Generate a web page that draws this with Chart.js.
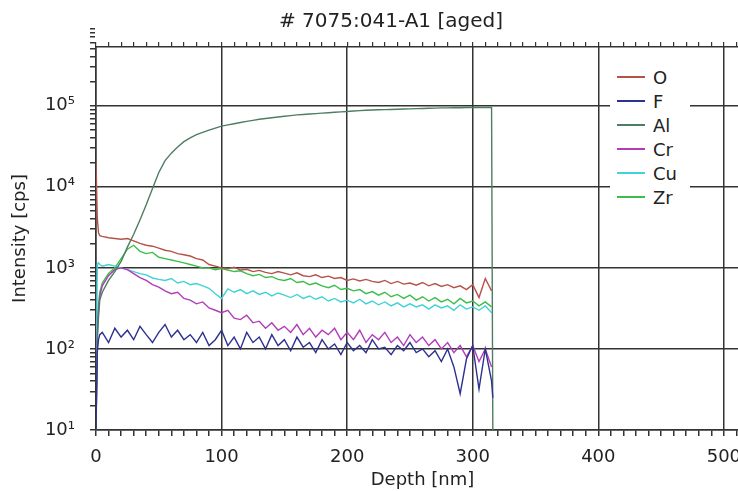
<!DOCTYPE html>
<html>
<head>
<meta charset="utf-8">
<script src="https://cdn.jsdelivr.net/npm/chart.js@4"></script>
<style>
  html, body { margin: 0; padding: 0; background: #fff; overflow: hidden; }
  #wrap { position: relative; width: 774px; height: 491px; }
  #legend { position: absolute; left: 610px; top: 65px; width: 80px; background: #fff;
            font: 18px 'DejaVu Sans', sans-serif; color: #222; }
  .item { height: 24px; display: flex; align-items: center; }
  .swatch { width: 28px; height: 2px; margin: 0 8px 0 7px; }
</style>
</head>
<body>
<div id="wrap">
  <canvas id="chart" width="774" height="491"></canvas>
  <div id="legend"></div>
</div>
<script>
// depth [nm]
const depth = [0, 1, 2, 3, 5, 10, 15, 20, 25, 30, 35, 40, 45, 50, 55, 60, 65, 70, 75, 80, 85, 90, 95, 100,
  105, 110, 115, 120, 125, 130, 135, 140, 145, 150, 155, 160, 165, 170, 175, 180, 185, 190, 195, 200,
  205, 210, 215, 220, 225, 230, 235, 240, 245, 250, 255, 260, 265, 270, 275, 280, 285, 290, 295, 300,
  305, 310, 315, 316];

const oValues = [20000, 4200, 2700, 2500, 2450, 2350, 2300, 2250, 2300, 2150, 2000, 1900, 1850, 1750, 1650, 1600, 1500, 1450, 1400, 1300, 1250, 1100, 1050, 1000,
  980, 1020, 940, 960, 900, 930, 880, 850, 900, 860, 820, 870, 800, 780, 820, 760, 790, 740, 760, 700,
  730, 690, 720, 680, 660, 700, 640, 680, 630, 650, 610, 660, 600, 640, 590, 620, 570, 600, 540, 620,
  430, 740, 520, null];

const fValues = [10, 90, 130, 150, 160, 120, 180, 140, 170, 130, 190, 150, 120, 160, 200, 140, 170, 130, 150, 120, 160, 110, 130, 170,
  110, 140, 100, 160, 120, 140, 100, 150, 110, 130, 95, 140, 105, 120, 90, 130, 100, 115, 85, 120,
  95, 110, 90, 130, 100, 105, 85, 110, 95, 120, 90, 100, 80, 95, 70, 100, 60, 28, 75, 110,
  32, 100, 40, 25];

const alValues = [10, 120, 250, 400, 500, 700, 900, 1200, 1800, 2600, 3900, 6000, 9500, 15000, 21000, 26000, 31000, 36000, 40000, 44000, 47000, 50000, 53000, 56000,
  58000, 60000, 62000, 64000, 66000, 68000, 69500, 71000, 72500, 74000, 75500, 77000, 78000, 79000, 80000, 81000, 82000, 83000, 84000, 85000,
  86000, 87000, 88000, 88500, 89000, 89500, 90000, 90500, 91000, 91500, 92000, 92500, 93000, 93500, 94000, 94000, 94500, 94500, 95000, 95000,
  95000, 95000, 95000, 10];

const crValues = [10, 150, 300, 450, 600, 800, 950, 1000, 950, 850, 760, 700, 620, 580, 520, 480, 500, 420, 400, 360, 380, 320, 300, 280,
  300, 240, 230, 260, 210, 220, 180, 210, 170, 190, 160, 200, 150, 180, 140, 170, 150, 180, 130, 160,
  130, 170, 120, 150, 130, 160, 120, 140, 110, 150, 120, 140, 110, 130, 100, 120, 90, 110, 80, 110,
  70, 100, 60, null];

const cuValues = [10, 1100, 1150, 1100, 1050, 1100, 1050, 1000, 950, 900, 850, 820, 750, 720, 700, 740, 650, 680, 620, 640, 600, 560, 480, 420,
  550, 500, 540, 480, 520, 470, 500, 450, 490, 460, 430, 470, 420, 450, 410, 440, 390, 420, 380, 400,
  370, 410, 360, 390, 350, 380, 340, 370, 330, 360, 330, 350, 310, 350, 320, 340, 300, 350, 310, 330,
  300, 340, 280, null];

const zrValues = [10, 200, 350, 500, 650, 850, 1000, 1300, 1700, 1900, 1600, 1500, 1550, 1350, 1300, 1250, 1200, 1150, 1100, 1050, 1000, 1000, 950, 980,
  940, 900, 920, 850, 800, 830, 760, 780, 720, 700, 740, 660, 680, 620, 650, 600, 570, 610, 540, 560,
  520, 540, 480, 510, 460, 500, 440, 470, 420, 460, 400, 440, 390, 430, 380, 410, 360, 420, 370, 390,
  340, 380, 330, null];

const seriesNames = ['O', 'F', 'Al', 'Cr', 'Cu', 'Zr'];
const seriesColors = ['#b5524a', '#2e3190', '#4d7d62', '#b23cb8', '#3fd3d8', '#3cbf4a'];
const seriesValues = [oValues, fValues, alValues, crValues, cuValues, zrValues];

const xMajorTicks = [0, 100, 200, 300, 400, 500];
const yMajorTicks = [10, 100, 1000, 10000, 100000];
const yTickLabels = ['10¹', '10²', '10³', '10⁴', '10⁵'];

const FONT = "'DejaVu Sans', sans-serif";
const GRID = '#333';
const PAD_LEFT = 33; // shifts the title centre to the right, y axis keeps left edge at 96

const isMajorX = v => xMajorTicks.some(t => Math.abs(t - v) < 1e-6);
const majorYIndex = v => yMajorTicks.findIndex(t => Math.abs(t - v) / t < 1e-6);

// log minor ticks 1..9 per decade
const yTicks = [];
yMajorTicks.forEach(d => { for (let m = 1; m <= 9; m++) yTicks.push(d * m); });

Chart.defaults.font.family = FONT;
Chart.defaults.color = '#222';

new Chart(document.getElementById('chart'), {
    type: 'line',
    data: {
        datasets: seriesValues.map((vals, k) => ({
            label: seriesNames[k],
            data: depth.map((d, i) => ({ x: d, y: vals[i] })),
            borderColor: seriesColors[k],
            borderWidth: 1.4,
            pointRadius: 0,
            fill: false,
            tension: 0
        }))
    },
    options: {
        responsive: false,
        animation: false,
        layout: { padding: { left: PAD_LEFT, right: 25, top: 0, bottom: 0 } },
        plugins: {
            legend: { display: false },
            tooltip: { enabled: false },
            title: {
                display: true,
                text: '# 7075:041-A1 [aged]',
                font: { size: 20, weight: 'normal' },
                color: '#222',
                padding: { top: 10, bottom: 1 }
            }
        },
        scales: {
            x: {
                type: 'linear', position: 'bottom', min: 0, max: 520,
                ticks: {
                    stepSize: 10, autoSkip: false, maxRotation: 0, padding: 11,
                    font: { size: 18 },
                    callback: v => isMajorX(v) ? String(v) : ''
                },
                grid: {
                    color: c => (c.tick && isMajorX(c.tick.value)) ? GRID : 'rgba(0,0,0,0)',
                    tickColor: GRID, lineWidth: 1.5, tickLength: 6
                },
                border: { color: GRID, width: 1.5 },
                title: { display: true, text: 'Depth [nm]', font: { size: 18 }, padding: { top: 0, bottom: 0 } },
                afterFit: s => { s.height = 61; }
            },
            x2: {
                type: 'linear', position: 'top', min: 0, max: 520,
                ticks: { display: false, stepSize: 10, autoSkip: false },
                grid: { drawOnChartArea: false, color: GRID, tickLength: 5, lineWidth: 1.2 },
                border: { color: GRID, width: 1.5 },
                afterFit: s => { s.height = 12; }
            },
            y: {
                type: 'logarithmic', min: 10, max: 530000,
                afterBuildTicks: s => { s.ticks = yTicks.map(v => ({ value: v })); },
                ticks: {
                    autoSkip: false, padding: 15, font: { size: 18 },
                    callback: v => { const i = majorYIndex(v); return i >= 0 ? yTickLabels[i] : ''; }
                },
                grid: {
                    color: c => (c.tick && majorYIndex(c.tick.value) >= 0) ? GRID : 'rgba(0,0,0,0)',
                    tickColor: GRID, lineWidth: 1.5, tickLength: 6
                },
                border: { color: GRID, width: 1.5 },
                title: { display: true, text: 'Intensity [cps]', font: { size: 18 }, padding: { top: 10 - PAD_LEFT, bottom: 4 } },
                afterFit: s => { s.width = 96 - PAD_LEFT; }
            }
        }
    }
});

// legend
const legend = document.getElementById('legend');
seriesNames.forEach((name, k) => {
    const row = document.createElement('div');
    row.className = 'item';
    row.innerHTML = `<span class="swatch" style="background:${seriesColors[k]}"></span><span>${name}</span>`;
    legend.appendChild(row);
});
</script>
</body>
</html>
